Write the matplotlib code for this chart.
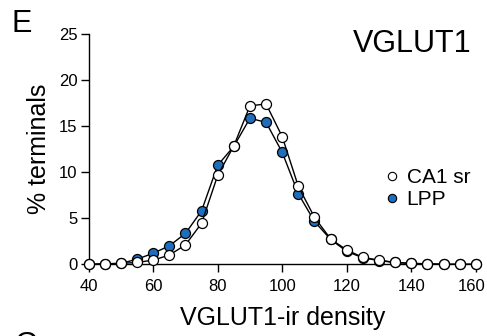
import matplotlib
matplotlib.use('Agg')
import matplotlib.pyplot as plt
import matplotlib.transforms as mtransforms
from matplotlib.lines import Line2D

plt.rcParams['font.family'] = ['Liberation Sans', 'DejaVu Sans']

# VGLUT1-ir density bins and % terminals per region
density = [40, 45, 50, 55, 60, 65, 70, 75, 80, 85, 90, 95, 100,
           105, 110, 115, 120, 125, 130, 135, 140, 145, 150, 155, 160]
ca1_sr = [0.0, 0.05, 0.1, 0.2, 0.45, 1.0, 2.1, 4.45, 9.65, 12.85, 17.2, 17.4, 13.85,
          8.45, 5.1, 2.75, 1.55, 0.75, 0.45, 0.2, 0.1, 0.05, 0.0, 0.0, 0.0]
lpp = [0.0, 0.05, 0.1, 0.55, 1.2, 2.0, 3.35, 5.8, 10.75, 12.8, 15.85, 15.4, 12.15,
       7.65, 4.65, 2.7, 1.4, 0.7, 0.4, 0.2, 0.1, 0.05, 0.0, 0.0, 0.0]
series_names = ['CA1 sr', 'LPP']
xticks = [40, 60, 80, 100, 120, 140, 160]
yticks = [0, 5, 10, 15, 20, 25]

blue = '#1f6dbd'

fig = plt.figure(figsize=(4.87, 3.36), dpi=100)
ax = fig.add_axes([0.182, 0.2134, 0.795, 0.6856])

ax.plot(density, lpp, color='black', lw=1.0, marker='o', ms=7.2,
        mfc=blue, mec='black', mew=0.9, clip_on=False, zorder=3)
ax.plot(density, ca1_sr, color='black', lw=1.0, marker='o', ms=7.2,
        mfc='white', mec='black', mew=0.9, clip_on=False, zorder=4)

ax.set_xlim(40, 160)
ax.set_ylim(0, 25)
ax.set_xticks(xticks)
ax.set_yticks(yticks)
for s in ['top', 'right']:
    ax.spines[s].set_visible(False)
for s in ['left', 'bottom']:
    ax.spines[s].set_linewidth(1.0)
ax.tick_params(direction='out', length=5.5, width=1.0, labelsize=12, pad=2.5)
ax.tick_params(axis='x', pad=5)

# last x label sits at the figure edge, nudge it left a little
last = ax.get_xticklabels()[-1]
last.set_transform(last.get_transform() + mtransforms.ScaledTranslation(-4 / 100, 0, fig.dpi_scale_trans))

ax.set_xlabel('VGLUT1-ir density', fontsize=18, labelpad=9)
ax.set_ylabel('% terminals', fontsize=18, labelpad=6)

ax.text(0.99, 0.957, 'VGLUT1', transform=ax.transAxes, fontsize=22,
        ha='right', va='center')

handles = [Line2D([], [], ls='none', marker='o', ms=6, mfc='white', mec='black', mew=0.8),
           Line2D([], [], ls='none', marker='o', ms=6, mfc=blue, mec='black', mew=0.8)]
ax.legend(handles, series_names, loc='upper left', bbox_to_anchor=(0.735, 0.455),
          frameon=False, fontsize=15, handletextpad=0.2, handlelength=1.0,
          labelspacing=0.15, borderaxespad=0)

fig.text(12 / 487, 1 - 32 / 336, 'E', fontsize=22, va='baseline', ha='left')
fig.text(15 / 487, 1 - 331 / 336, 'G', fontsize=22, va='top', ha='left')

fig.savefig('out.png', dpi=100)
